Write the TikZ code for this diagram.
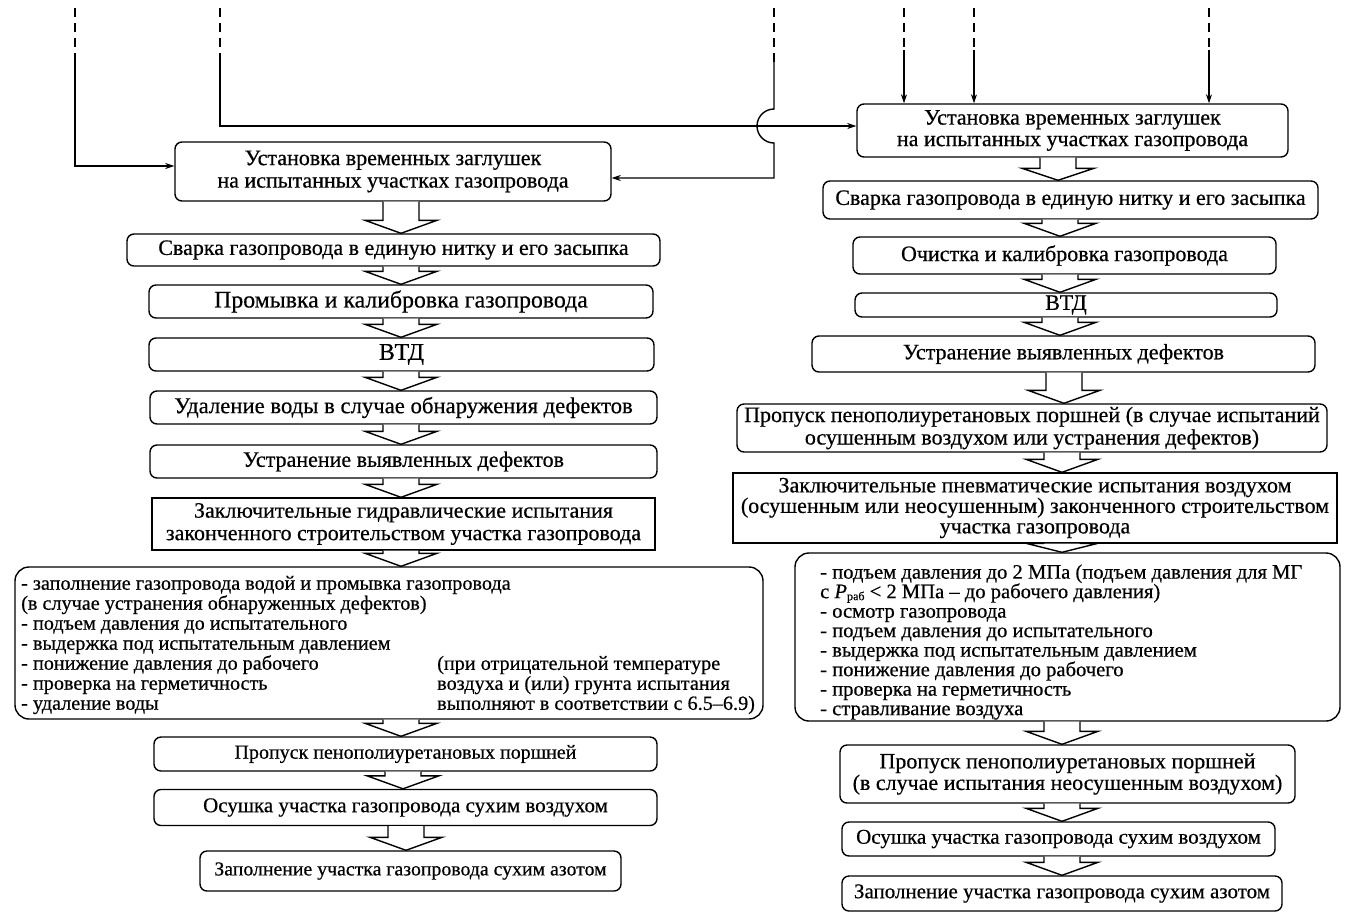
\documentclass[tikz,border=0pt]{standalone}
\usepackage{fontspec}
\setmainfont{Liberation Serif}
\newfontfamily\heavy[FakeBold=0.5]{Liberation Serif}
\usetikzlibrary{arrows.meta,calc}
\newcommand{\barrow}[4][13]{%
  \draw[barr] let \p1=(#2.south), \p2=(#3.north) in
    ({#4pt-18pt},\y1) -- ({#4pt-18pt},{\y2+#1pt}) -- ({#4pt-36pt},{\y2+#1pt}) --
    ({#4pt},\y2) -- ({#4pt+36pt},{\y2+#1pt}) -- ({#4pt+18pt},{\y2+#1pt}) -- ({#4pt+18pt},\y1);}
\begin{document}
\begin{tikzpicture}[x=1pt,y=-1pt,
  box/.style={draw, line width=1.4pt, rounded corners=7pt, align=center, inner sep=0pt,
    font=\heavy\fontsize{22}{22.5}\selectfont},
  fs/.style={font=\heavy\fontsize{#1}{22.5}\selectfont},
  sbox/.style={box, rounded corners=0pt},
  lbox/.style={draw, line width=1.4pt, rounded corners=14pt, inner sep=0pt},
  ltext/.style={align=left, inner sep=0pt, anchor=west, font=\heavy\fontsize{20.2}{20}\selectfont},
  conn/.style={line width=1.4pt, -{Stealth[length=9pt,width=6pt]}},
  dsh/.style={line width=1.4pt, dash pattern=on 9pt off 6pt},
  barr/.style={draw, line width=1.4pt, fill=white, line join=miter}
]
\useasboundingbox (0,0) rectangle (1356,919);

% left column
\node[box, minimum width=436pt, minimum height=59pt] (L1) at (393,171.5) {Установка временных заглушек\\на испытанных участках газопровода};
\node[box, minimum width=533pt, minimum height=32pt] (L2) at (393.5,250) {Сварка газопровода в единую нитку и его засыпка};
\node[box, fs=23.8, minimum width=504pt, minimum height=33pt] (L3) at (401,301.5) {Промывка и калибровка газопровода};
\node[box, fs=24, minimum width=505pt, minimum height=33pt] (L4) at (401.5,354.5) {ВТД};
\node[box, fs=22.7, minimum width=507pt, minimum height=33pt] (L5) at (403.5,407.5) {Удаление воды в случае обнаружения дефектов};
\node[box, minimum width=507pt, minimum height=33pt] (L6) at (403.5,461.5) {Устранение выявленных дефектов};
\node[sbox, minimum width=503pt, minimum height=52pt] (L7) at (403.5,524) {Заключительные гидравлические испытания\\законченного строительством участка газопровода};
\node[lbox, minimum width=748pt, minimum height=152pt] (L8) at (389,643) {};
\node[ltext] (L8a) at (21,645) {- заполнение газопровода водой и промывка газопровода\\(в случае устранения обнаруженных дефектов)\\- подъем давления до испытательного\\- выдержка под испытательным давлением\\- понижение давления до рабочего\\- проверка на герметичность\\- удаление воды};
\node[ltext] (L8b) at (437,685) {(при отрицательной температуре\\воздуха и (или) грунта испытания\\выполняют в соответствии с 6.5–6.9)};
\node[box, fs=20, minimum width=503pt, minimum height=34pt] (L9) at (405.5,754) {Пропуск пенополиуретановых поршней};
\node[box, fs=21, minimum width=503pt, minimum height=36pt] (L10) at (405.5,807.5) {Осушка участка газопровода сухим воздухом};
\node[box, fs=19.8, minimum width=421pt, minimum height=40pt] (L11) at (410.5,871) {Заполнение участка газопровода сухим азотом};

% right column
\node[box, minimum width=431pt, minimum height=53pt, font=\heavy\fontsize{22}{21.5}\selectfont] (R1) at (1072.5,130.5) {Установка временных заглушек\\на испытанных участках газопровода};
\node[box, minimum width=495pt, minimum height=38pt] (R2) at (1070.5,200) {Сварка газопровода в единую нитку и его засыпка};
\node[box, minimum width=423pt, minimum height=37pt] (R3) at (1064.5,255.5) {Очистка и калибровка газопровода};
\node[box, minimum width=422pt, minimum height=24pt] (R4) at (1066,305) {ВТД};
\node[box, minimum width=503pt, minimum height=36pt] (R5) at (1063.5,354) {Устранение выявленных дефектов};
\node[box, minimum width=590pt, minimum height=48pt] (R6) at (1032,428) {Пропуск пенополиуретановых поршней (в случае испытаний\\осушенным воздухом или устранения дефектов)};
\node[sbox, minimum width=604pt, minimum height=70pt, font=\heavy\fontsize{22}{20.5}\selectfont] (R7) at (1035,508) {Заключительные пневматические испытания воздухом\\(осушенным или неосушенным) законченного строительством\\участка газопровода};
\node[lbox, minimum width=545pt, minimum height=168pt] (R8) at (1067.5,637) {};
\node[ltext, font=\heavy\fontsize{20.6}{19.5}\selectfont] (R8a) at (820,642) {- подъем давления до 2 МПа (подъем давления для МГ\\с {\itshape P}\raisebox{-2pt}{\fontsize{12}{12}\selectfont раб} < 2 МПа – до рабочего давления)\\- осмотр газопровода\\- подъем давления до испытательного\\- выдержка под испытательным давлением\\- понижение давления до рабочего\\- проверка на герметичность\\- стравливание воздуха};
\node[box, minimum width=455pt, minimum height=58pt, font=\heavy\fontsize{22}{21.5}\selectfont] (R9) at (1067.5,774) {Пропуск пенополиуретановых поршней\\(в случае испытания неосушенным воздухом)};
\node[box, fs=21, minimum width=433pt, minimum height=34pt] (R10) at (1058.5,839) {Осушка участка газопровода сухим воздухом};
\node[box, fs=21, minimum width=440pt, minimum height=35pt] (R11) at (1062,893.5) {Заполнение участка газопровода сухим азотом};

% block arrows
\barrow{L1}{L2}{401}
\barrow{L2}{L3}{401}
\barrow{L3}{L4}{401}
\barrow{L4}{L5}{401}
\barrow{L5}{L6}{401}
\barrow{L6}{L7}{401}
\barrow{L7}{L8}{401}
\barrow{L8}{L9}{401}
\barrow{L9}{L10}{403}
\barrow{L10}{L11}{406}
\barrow[12]{R1}{R2}{1058}
\barrow{R2}{R3}{1060}
\barrow{R3}{R4}{1060}
\barrow{R4}{R5}{1060}
\barrow{R5}{R6}{1064}
\barrow{R6}{R7}{1062}
\barrow[9]{R7}{R8}{1062}
\barrow{R8}{R9}{1062}
\barrow{R9}{R10}{1062}
\barrow{R10}{R11}{1062}

% incoming lines
\coordinate (t1) at (75,8);   \coordinate (k1) at (75,58);
\coordinate (t2) at (220,8);  \coordinate (k2) at (220,58);
\coordinate (t3) at (774,8);  \coordinate (k3) at (774,62);
\coordinate (j1) at (774,109); \coordinate (j2) at (774,178);
\coordinate (t4) at (904,8);  \coordinate (k4) at (904,50);
\coordinate (t5) at (974,8);  \coordinate (k5) at (974,50);
\coordinate (t6) at (1209,8); \coordinate (k6) at (1209,50);
\foreach \n in {1,...,6} {\draw[dsh] (t\n) -- (k\n);}
\draw[conn] (k1) |- ([yshift=5.5pt]L1.west);
\draw[conn] (k2) |- ([yshift=4.5pt]R1.west);
\draw[conn] (k3) -- (j1) arc[start angle=90,end angle=270,radius=17pt] -- (j2) -- (j2 -| L1.east);
\draw[conn] (k4) -- (k4 |- R1.north);
\draw[conn] (k5) -- (k5 |- R1.north);
\draw[conn] (k6) -- (k6 |- R1.north);
\end{tikzpicture}
\end{document}
